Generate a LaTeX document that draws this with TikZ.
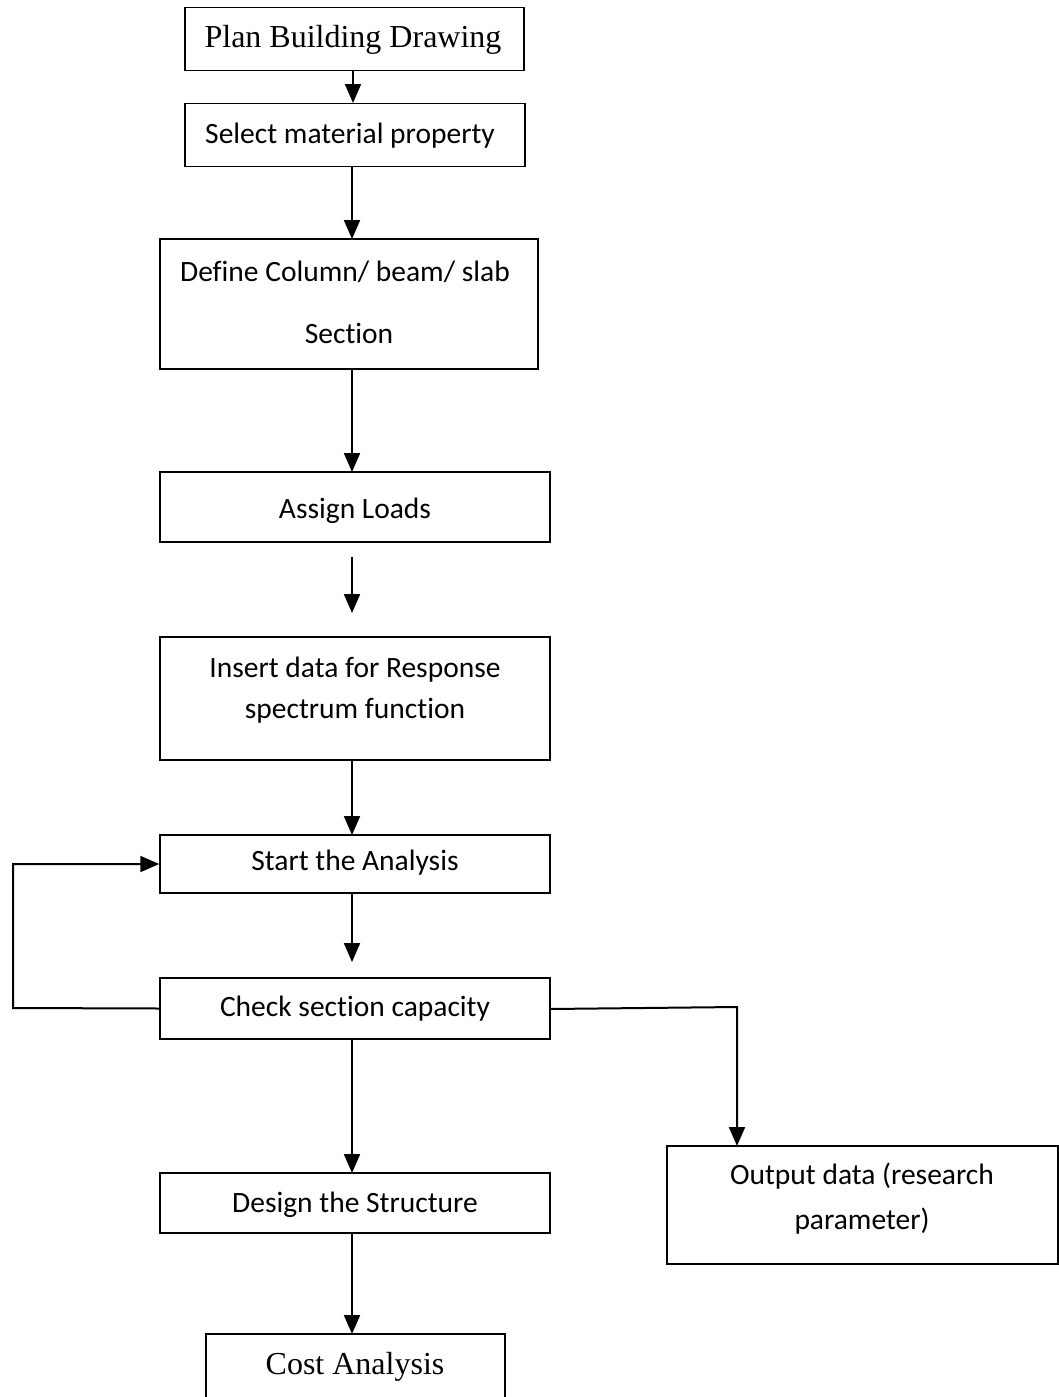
\documentclass[tikz,border=0pt]{standalone}
\usepackage{fontspec}
\setmainfont{Carlito}[Ligatures=NoCommon]
\newfontfamily\tnr{Liberation Serif}
\usetikzlibrary{arrows.meta}
\begin{document}
\begin{tikzpicture}[x=1pt,y=-1pt,
  box/.style={draw,line width=1.5pt,inner sep=0pt},
  txt/.style={inner sep=0pt,align=center,font=\fontsize{29.5}{35}\selectfont},
  stxt/.style={inner sep=0pt,align=center,font=\tnr\fontsize{32}{38}\selectfont},
  arr/.style={line width=2pt,-{Triangle[length=19pt,width=16pt]}},
  ln/.style={line width=2pt}]
\useasboundingbox (0,0) rectangle (1058,1397);
% boxes
\node[box,minimum width=339pt,minimum height=63pt] (b1) at (354.5,39) {};
\node[box,minimum width=340pt,minimum height=63pt] (b2) at (355,135) {};
\node[box,minimum width=378pt,minimum height=130pt] (b3) at (349,304) {};
\node[box,minimum width=390pt,minimum height=70pt] (b4) at (355,507) {};
\node[box,minimum width=390pt,minimum height=123pt] (b5) at (355,698.5) {};
\node[box,minimum width=390pt,minimum height=58pt] (b6) at (355,864) {};
\node[box,minimum width=390pt,minimum height=61pt] (b7) at (355,1008.5) {};
\node[box,minimum width=390pt,minimum height=60pt] (b8) at (355,1203) {};
\node[box,minimum width=391pt,minimum height=118pt] (b9) at (862.5,1205) {};
\coordinate (c1) at (206,1397);
\coordinate (c2) at (206,1334);
\coordinate (c3) at (505,1334);
\coordinate (c4) at (505,1397);
\draw[line width=1.5pt] (c1) -- (c2) -- (c3) -- (c4);
% texts
\node[stxt] (t1) at (353,40) {Plan Building Drawing};
\node[txt] (t2) at (350,136) {Select material property};
\node[txt] (t3a) at (345,272) {Define Column/ beam/ slab};
\node[txt] (t3b) at (349,333) {Section};
\node[txt] (t4) at (355,511) {Assign Loads};
\node[txt] (t5) at (355,690) {Insert data for Response\\[6pt]spectrum function};
\node[txt] (t6) at (355,863) {Start the Analysis};
\node[txt] (t7) at (355,1009) {Check section capacity};
\node[txt] (t8) at (355,1205) {Design the Structure};
\node[txt] (t9) at (862,1199) {Output data (research\\[10pt]parameter)};
\node[stxt] (t10) at (355,1367) {Cost Analysis};
% connectors
\coordinate (a1) at (353,71);
\coordinate (a1e) at (353,103);
\draw[arr] (a1) -- (a1e);
\coordinate (a2) at (352,167);
\coordinate (a2e) at (352,239);
\draw[arr] (a2) -- (a2e);
\coordinate (a3) at (352,369);
\coordinate (a3e) at (352,472);
\draw[arr] (a3) -- (a3e);
\coordinate (a4) at (352,557);
\coordinate (a4e) at (352,613);
\draw[arr] (a4) -- (a4e);
\coordinate (a5) at (352,760);
\coordinate (a5e) at (352,835);
\draw[arr] (a5) -- (a5e);
\coordinate (a6) at (352,893);
\coordinate (a6e) at (352,962);
\draw[arr] (a6) -- (a6e);
\coordinate (a7) at (352,1039);
\coordinate (a7e) at (352,1173);
\draw[arr] (a7) -- (a7e);
\coordinate (a8) at (352,1233);
\coordinate (a8e) at (352,1334);
\draw[arr] (a8) -- (a8e);
% feedback loop
\coordinate (l1) at (13,1008);
\coordinate (l2) at (13,864);
\draw[arr] (b7.west) -- (l1) -- (l2) -- (b6.west);
% to output
\coordinate (r1) at (550,1009);
\coordinate (r2) at (737,1007);
\coordinate (r3) at (737,1146);
\draw[arr] (r1) -- (r2) -- (r3);
\end{tikzpicture}
\end{document}
